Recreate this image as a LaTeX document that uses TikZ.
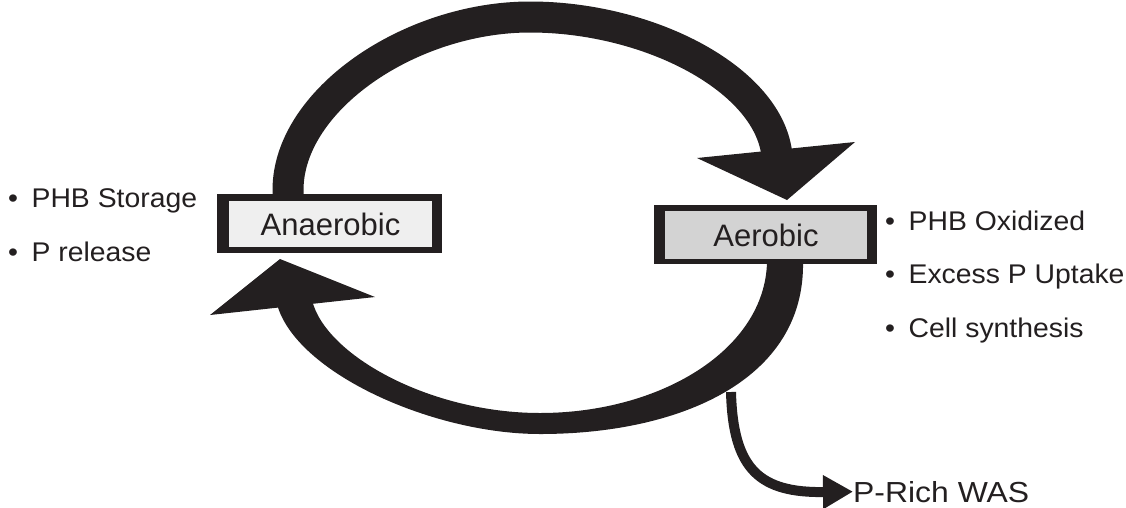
\documentclass[tikz,border=0pt]{standalone}
\usepackage{fontspec}
\setmainfont{Liberation Sans}
\newfontfamily\sidefont[FakeStretch=1.05]{Liberation Sans}
\newfontfamily\wasfont[FakeStretch=1.1]{Liberation Sans}
\usetikzlibrary{arrows.meta}
\definecolor{ink}{HTML}{231F20}
\definecolor{anafill}{HTML}{EFEFEF}
\definecolor{aerofill}{HTML}{D3D3D3}

\begin{document}
\begin{tikzpicture}[x=1pt,y=-1pt,
  frame/.style={fill=ink, inner sep=0pt, draw=none},
  panel/.style={inner sep=0pt, draw=none, text=ink, font=\fontsize{31}{36}\selectfont},
  note/.style={anchor=base west, inner sep=0pt, text=ink, font=\sidefont\fontsize{27}{32}\selectfont},
  band/.style={draw=ink, line width=31pt},
  head/.style={fill=ink, draw=none},
  drain/.style={draw=ink, line width=10pt, -{Triangle[length=30pt,width=32pt]}}
]
\useasboundingbox (0,0) rectangle (1126,507);

% upper band: anaerobic -> aerobic
\draw[band] (288,200) -- (288,190) .. controls (288,100) and (410,17) .. (530,17)
  .. controls (650,17) and (770,80) .. (777,156);
\fill[head] (787,200) -- (697,158) -- (855,142) -- cycle;

% lower band: aerobic -> anaerobic, tapering towards the middle
\fill[ink] (803,262) .. controls (805,380) and (680,434) .. (540,434)
  .. controls (430,434) and (290,370) .. (276,300)
  -- (312,300) .. controls (325,355) and (430,413) .. (540,413)
  .. controls (660,413) and (765,350) .. (767,262) -- cycle;
\fill[head] (280,259) -- (210,315) -- (375,297) -- cycle;

% stage boxes
\node[frame, minimum width=225pt, minimum height=59pt] (anaframe) at (329.5,223.5) {};
\node[panel, fill=anafill, minimum width=203pt, minimum height=46pt] (ana) at (330.5,224) {Anaerobic};
\node[frame, minimum width=223pt, minimum height=59pt] (aeroframe) at (765.5,234.5) {};
\node[panel, fill=aerofill, minimum width=202pt, minimum height=48pt] (aero) at (766,235) {Aerobic};

% process notes
\node[note] (n1) at (8,207) {•\enspace PHB Storage};
\node[note] (n2) at (8,261) {•\enspace P release};
\node[note] (n3) at (885,230) {•\enspace PHB Oxidized};
\node[note] (n4) at (885,283) {•\enspace Excess P Uptake};
\node[note] (n5) at (885,337) {•\enspace Cell synthesis};

% sludge wasting
\node[note, font=\wasfont\fontsize{29}{34}\selectfont] (was) at (853,502) {P-Rich WAS};
\coordinate (tap) at (731,392);
\draw[drain] (tap) .. controls (733,470) and (760,493) .. (was.west);
\end{tikzpicture}
\end{document}
